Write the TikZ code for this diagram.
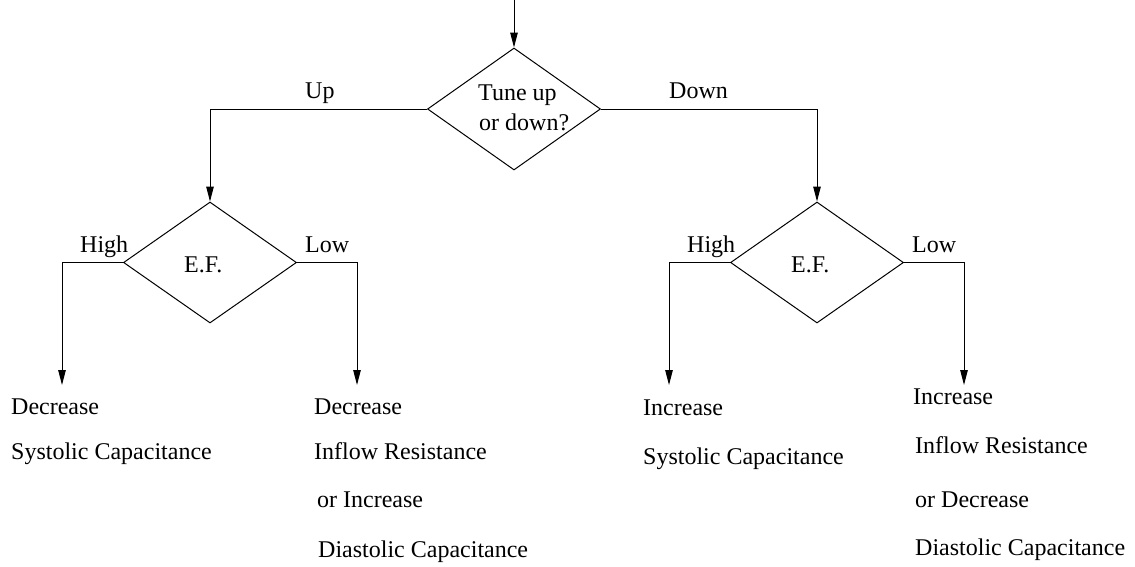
\documentclass[tikz,border=0pt]{standalone}
\usepackage{fontspec}
\setmainfont{Liberation Serif}
\usetikzlibrary{shapes.geometric,arrows.meta}
\begin{document}
\begin{tikzpicture}[x=1pt,y=-1pt,
  dec/.style={draw,diamond,minimum width=173pt,minimum height=121pt,inner sep=0pt,line width=1pt},
  txt/.style={anchor=base west,inner sep=0pt,font=\fontsize{24}{28}\selectfont},
  conn/.style={line width=1pt,-{Triangle[length=15pt,width=7.5pt]}}]
\useasboundingbox (0,0) rectangle (1135,566);
% decisions
\node[dec,minimum height=122pt] (top) at (514,109) {};
\node[dec] (L) at (210,262.5) {};
\node[dec] (R) at (817,262.5) {};
% decision texts
\node[txt] (tq1) at (478,100) {Tune up};
\node[txt] (tq2) at (479,130) {or down?};
\node[txt] (lef) at (184,272) {E.F.};
\node[txt] (ref) at (791,272) {E.F.};
% branch labels
\node[txt] (up) at (305,98) {Up};
\node[txt] (down) at (669,98) {Down};
\node[txt] (lh) at (80,252) {High};
\node[txt] (ll) at (305,252) {Low};
\node[txt] (rh) at (687,252) {High};
\node[txt] (rl) at (912,252) {Low};
% outcomes
\node[txt] (o1a) at (11,414) {Decrease};
\node[txt] (o1b) at (11,459) {Systolic Capacitance};
\node[txt] (o2a) at (314,414) {Decrease};
\node[txt] (o2b) at (314,459) {Inflow Resistance};
\node[txt] (o2c) at (317,507) {or Increase};
\node[txt] (o2d) at (318,557) {Diastolic Capacitance};
\node[txt] (o3a) at (643,415) {Increase};
\node[txt] (o3b) at (643,464) {Systolic Capacitance};
\node[txt] (o4a) at (913,404) {Increase};
\node[txt] (o4b) at (915,453) {Inflow Resistance};
\node[txt] (o4c) at (915,507) {or Decrease};
\node[txt] (o4d) at (915,555) {Diastolic Capacitance};
% connector end points
\coordinate (start) at (514,0);
\coordinate (e1) at (62,385);
\coordinate (e2) at (357,385);
\coordinate (e3) at (669,385);
\coordinate (e4) at (964,385);
% connectors
\draw[conn] (start) -- (top.north);
\draw[conn] (top.west) -| (L.north);
\draw[conn] (top.east) -| (R.north);
\draw[conn] (L.west) -| (e1);
\draw[conn] (L.east) -| (e2);
\draw[conn] (R.west) -| (e3);
\draw[conn] (R.east) -| (e4);
\end{tikzpicture}
\end{document}
